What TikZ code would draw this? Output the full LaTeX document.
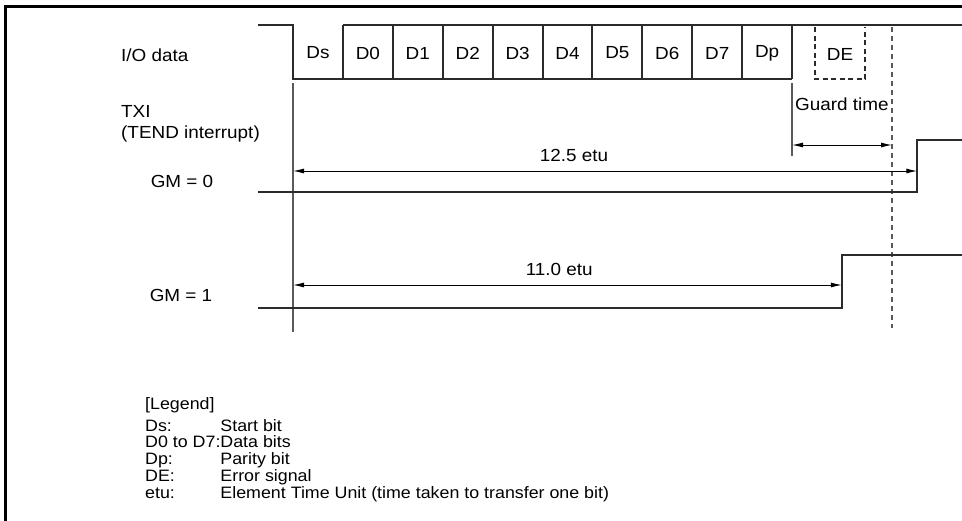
\documentclass[tikz,border=0pt]{standalone}
\usepackage{fontspec}
\setmainfont{Liberation Sans}[FakeStretch=1.08]
\usepackage{tikz}
\usetikzlibrary{arrows.meta,calc}
\definecolor{sig}{HTML}{2B2B2B}
\definecolor{guide}{HTML}{5A5A5A}
\tikzset{
  lbl/.style ={inner sep=0pt, font=\fontsize{17.5}{17}\selectfont},
  cell/.style={inner sep=0pt, font=\fontsize{17.5}{17}\selectfont},
  key/.style ={inner sep=0pt, font=\fontsize{16.5}{16}\selectfont},
  wave/.style={draw=sig, line width=2pt},
  vline/.style={draw=guide, line width=1.1pt},
  dline/.style={draw=guide, line width=1.1pt, dash pattern=on 5pt off 4pt},
  dim/.style ={draw=black, line width=1pt, {Latex[length=11pt,width=5pt]}-{Latex[length=11pt,width=5pt]}},
  frame/.style={draw=black, line width=3pt},
}

\begin{document}
\begin{tikzpicture}[x=1pt, y=-1pt]
\useasboundingbox (0,0) rectangle (962,520);
\draw[frame] (5,522) -- (5,6) -- (964,6);

% signal names
\node[lbl, anchor=west] (iodata) at (121,55) {I/O data};
\node[lbl, anchor=west] (txi) at (121,111) {TXI};
\node[lbl, anchor=west] (tend) at (121,134) {(TEND interrupt)};
\node[lbl] (gmzero) at (182,181) {GM = 0};
\node[lbl] (gmone) at (181,295) {GM = 1};

% I/O data frame
\coordinate (b0) at (293,25);
\coordinate (b1) at (342.9,25);
\coordinate (b10) at (792,79);
\draw[wave] (258,25) -- (b0) -- (293,79) -- (b10);
\draw[wave] (b1) -- (962,25);
\draw[wave] (342.9,25) -- (342.9,79);
\draw[wave] (392.8,25) -- (392.8,79);
\draw[wave] (442.7,25) -- (442.7,79);
\draw[wave] (492.6,25) -- (492.6,79);
\draw[wave] (542.5,25) -- (542.5,79);
\draw[wave] (592.4,25) -- (592.4,79);
\draw[wave] (642.3,25) -- (642.3,79);
\draw[wave] (692.2,25) -- (692.2,79);
\draw[wave] (742.1,25) -- (742.1,79);
\draw[wave] (792,25) -- (792,79);
\node[cell] (ds) at (318,53) {Ds};
\node[cell] (dzero) at (367.9,53) {D0};
\node[cell] (done) at (417.8,53) {D1};
\node[cell] (dtwo) at (467.7,53) {D2};
\node[cell] (dthree) at (517.6,53) {D3};
\node[cell] (dfour) at (567.5,53) {D4};
\node[cell] (dfive) at (617.4,53) {D5};
\node[cell] (dsix) at (667.3,53) {D6};
\node[cell] (dseven) at (717.2,53) {D7};
\node[cell] (dp) at (767.1,53) {Dp};
\node[cell] (de) at (840,54) {DE};
\draw[draw=sig, line width=2pt, dash pattern=on 5pt off 3.5pt] (815,27) -- (815,79) -- (865,79) -- (865,27);

% guides
\draw[vline] (293,83) -- (293,332);
\draw[vline] (792,83) -- (792,156);
\draw[dline] (892,27) -- (892,328);
\node[lbl, anchor=west] (guard) at (795,104) {Guard time};
\coordinate (ga) at (792,145);
\coordinate (gb) at (892,145);
\draw[dim] (ga) -- (gb);

% GM = 0
\coordinate (rzero) at (917.3,192);
\draw[wave] (258,192) -- (rzero) -- (917.3,140) -- (962,140);
\coordinate (azero) at (293,171);
\coordinate (ezero) at (917.3,171);
\draw[dim] (azero) -- (ezero) node[lbl, pos=0.45, above=9pt] (tzero) {12.5 etu};

% GM = 1
\coordinate (rone) at (841.9,308);
\draw[wave] (258,308) -- (rone) -- (841.9,255) -- (962,255);
\coordinate (aone) at (293,285);
\coordinate (eone) at (841.9,285);
\draw[dim] (aone) -- (eone) node[lbl, pos=0.485, above=9pt] (tone) {11.0 etu};

% legend
\node[key, anchor=west] (legend) at (145,405) {[Legend]};
\node[key, anchor=north west] (legendkeys) at (145,419) {%
  \begin{tabular}{@{}l@{}l@{}}
  Ds: & Start bit\\
  D0 to D7: & Data bits\\
  Dp: & Parity bit\\
  DE: & Error signal\\
  etu: & Element Time Unit (time taken to transfer one bit)
  \end{tabular}};

\end{tikzpicture}
\end{document}
